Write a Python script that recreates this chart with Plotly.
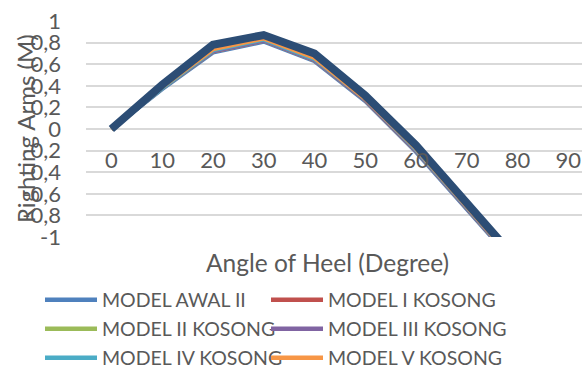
import plotly.graph_objects as go

angles = [0, 10, 20, 30, 40, 50, 60, 70, 80]
tick_vals = [0, 10, 20, 30, 40, 50, 60, 70, 80, 90]
y_ticks = [-1, -0.8, -0.6, -0.4, -0.2, 0, 0.2, 0.4, 0.6, 0.8, 1]
y_labels = ["-1", "-0,8", "-0,6", "-0,4", "-0,2", "0", "0,2", "0,4", "0,6", "0,8", "1"]

model_awal_ii = [0, 0.37, 0.71, 0.81, 0.63, 0.26, -0.21, -0.74, -1.27]
model_i_kosong = [0, 0.38, 0.72, 0.82, 0.64, 0.27, -0.20, -0.73, -1.26]
model_ii_kosong = [0, 0.38, 0.72, 0.82, 0.64, 0.27, -0.20, -0.73, -1.26]
model_iii_kosong = [0, 0.38, 0.72, 0.82, 0.64, 0.27, -0.20, -0.73, -1.26]
model_iv_kosong = [0, 0.38, 0.73, 0.83, 0.65, 0.28, -0.19, -0.72, -1.25]
model_v_kosong = [0, 0.39, 0.74, 0.84, 0.66, 0.28, -0.18, -0.72, -1.25]
model_extra = [0, 0.41, 0.78, 0.87, 0.70, 0.31, -0.15, -0.69, -1.22]

font_family = "Lato, 'Open Sans', sans-serif"
grey = "#595959"

W, H = 582, 369
ML, MR, MT, MB = 86, 0, 21, 132
PW, PH = W - ML - MR, H - MT - MB


def px_x(px):
    return (px - ML) / PW


def px_y(py):
    return (H - MB - py) / PH


# (name, values, colour, width, legend id, legend left px, legend row centre px)
series = [
    ("MODEL AWAL II", model_awal_ii, "#4F81BD", 4.5, "legend", 40, 300),
    ("MODEL I KOSONG", model_i_kosong, "#C0504D", 4.5, "legend2", 266, 300),
    ("MODEL II KOSONG", model_ii_kosong, "#9BBB59", 4.5, "legend3", 40, 329),
    ("MODEL III KOSONG", model_iii_kosong, "#8064A2", 4.5, "legend4", 266, 329),
    ("MODEL IV KOSONG", model_iv_kosong, "#4BACC6", 4.5, "legend5", 40, 358),
    ("MODEL V KOSONG", model_v_kosong, "#F79646", 4.5, "legend6", 266, 358),
    ("MODEL", model_extra, "#2C4D75", 8, None, None, None),
]

fig = go.Figure()
legends = {}
for name, vals, color, w, leg, lx, ly in series:
    fig.add_trace(go.Scatter(
        x=angles, y=vals, mode="lines", name=name,
        line=dict(color=color, width=w),
        showlegend=leg is not None, legend=leg or "legend",
    ))
    if leg is not None:
        legends[leg] = dict(
            orientation="h", x=px_x(lx), y=px_y(ly), xanchor="left", yanchor="middle",
            font=dict(size=19.5, color=grey, family=font_family), itemwidth=52,
            bgcolor="rgba(0,0,0,0)",
        )

fig.update_layout(
    width=W, height=H,
    margin=dict(l=ML, r=MR, t=MT, b=MB, autoexpand=False),
    paper_bgcolor="white", plot_bgcolor="white",
    font=dict(family=font_family, color=grey, size=22),
    xaxis=dict(
        range=[-5, 92.7], tickvals=tick_vals, ticktext=[str(v) for v in tick_vals],
        showgrid=False, zeroline=False, showline=False, ticks="",
        anchor="free", position=0.5, side="bottom",
        tickfont=dict(size=22, color=grey), ticklabelstandoff=16,
    ),
    yaxis=dict(
        range=[-1, 1], tickvals=y_ticks, ticktext=y_labels,
        showgrid=True, gridcolor="#D9D9D9", gridwidth=1.5,
        zeroline=False, showline=False, ticks="",
        tickfont=dict(size=22, color=grey), ticklabelstandoff=24,
    ),
    annotations=[
        dict(
            text="Angle of Heel (Degree)", xref="paper", yref="paper",
            x=px_x(327), y=px_y(262), xanchor="center", yanchor="middle",
            showarrow=False, font=dict(size=24.5, color=grey),
        ),
        dict(
            text="Righting Arms (M)", xref="paper", yref="paper", textangle=-90,
            x=px_x(25), y=px_y(129), xanchor="center", yanchor="middle",
            showarrow=False, font=dict(size=24, color=grey),
        ),
    ],
    **legends,
)

fig.write_html("out.html")
